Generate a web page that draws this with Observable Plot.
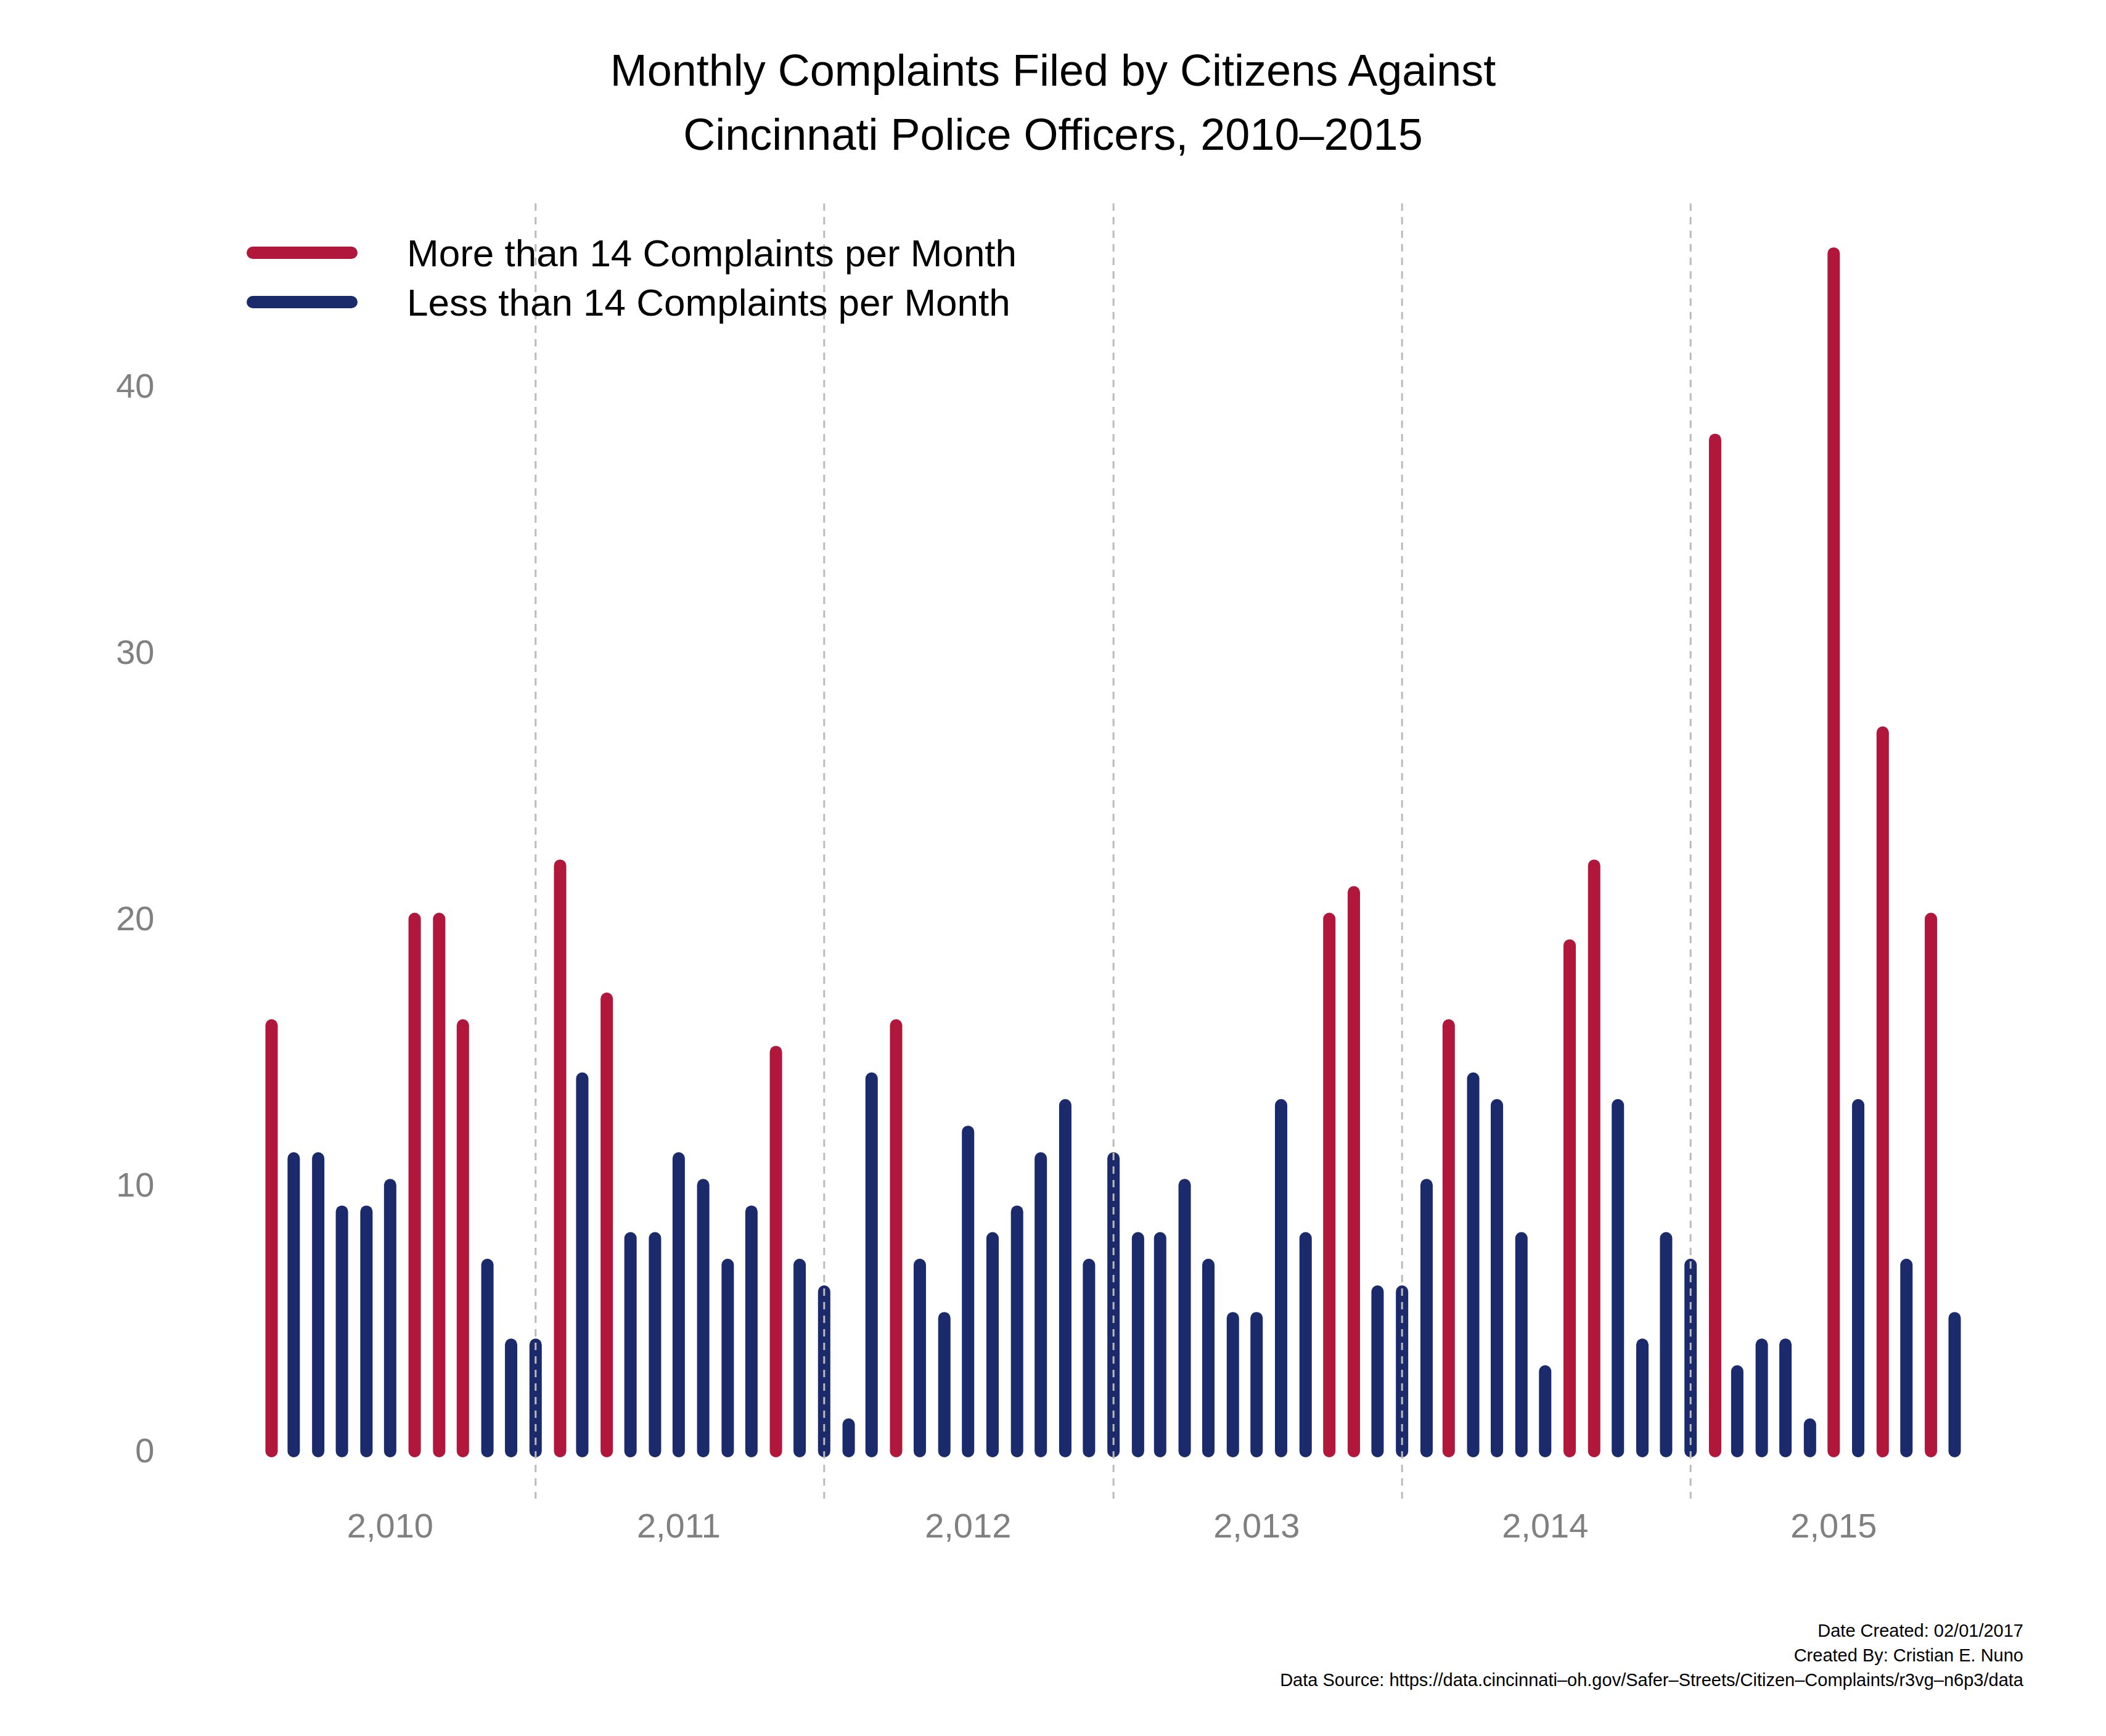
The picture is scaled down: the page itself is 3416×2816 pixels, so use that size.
<!DOCTYPE html>
<html><head><meta charset="utf-8">
<script src="https://cdn.jsdelivr.net/npm/d3@7"></script>
<script src="https://cdn.jsdelivr.net/npm/@observablehq/plot@0.6"></script>
<style>
body{margin:0;background:#fff;font-family:"Liberation Sans",Arial,sans-serif;}
#wrap{position:relative;width:3416px;height:2816px;}
#title{position:absolute;top:62px;left:0;width:3416px;text-align:center;font-size:72px;line-height:104px;color:#000;}
#chart{position:absolute;top:300px;left:0;}
#legend{position:absolute;top:370px;left:400px;font-size:62px;color:#000;}
.li{display:flex;align-items:center;height:80px;}
.sw{width:180px;height:20px;border-radius:10px;margin-right:80px;}
#cap{position:absolute;top:2625px;right:134px;text-align:right;font-size:29px;line-height:40px;color:#000;}
</style></head><body>
<div id="wrap">
<div id="title">Monthly Complaints Filed by Citizens Against<br>Cincinnati Police Officers, 2010–2015</div>
<div id="chart"></div>
<div id="legend"></div>
<div id="cap">Date Created: 02/01/2017<br>Created By: Cristian E. Nuno<br>Data Source: https://data.cincinnati–oh.gov/Safer–Streets/Citizen–Complaints/r3vg–n6p3/data</div>
</div>
<script>
const startMonth = "2010-02";
const complaints = [
 16,11,11,9,9,10,20,20,16,7,4,
 4,22,14,17,8,8,11,10,7,9,15,7,
 6,1,14,16,7,5,12,8,9,11,13,7,
 11,8,8,10,7,5,5,13,8,20,21,6,
 6,10,16,14,13,8,3,19,22,13,4,8,
 7,38,3,4,4,1,45,13,27,7,20,5
];
const threshold = 14;
const seriesLabels = ["More than 14 Complaints per Month","Less than 14 Complaints per Month"];
const seriesColors = ["#b0173a","#1b2a6b"];
const yearTicks = [2010,2011,2012,2013,2014,2015];
const yTicks = [0,10,20,30,40];

const start = new Date(startMonth+"-01T00:00:00Z");
const data = complaints.map((v,i)=>({date:d3.utcMonth.offset(start,i),value:v,group:v>threshold?seriesLabels[0]:seriesLabels[1]}));
const boundaries = yearTicks.slice(1).map(y=>new Date(Date.UTC(y,0,1)));
const labelDates = yearTicks.map(y=>new Date(Date.UTC(y,6,1)));

const chart = Plot.plot({
  width:3416, height:2300,
  marginLeft:440, marginRight:246, marginTop:68, marginBottom:246,
  style:{fontFamily:"Liberation Sans, Arial, sans-serif", background:"#fff"},
  x:{type:"utc", domain:[data[0].date, data[data.length-1].date]},
  y:{domain:[0,46]},
  color:{domain:seriesLabels, range:seriesColors},
  marks:[
    Plot.ruleX(data,{x:"date",y1:0,y2:"value",stroke:"group",strokeWidth:20,strokeLinecap:"round"}),
    Plot.ruleX(boundaries,{x:d=>d,stroke:"#bbbbbb",strokeWidth:3,strokeDasharray:"12,10",insetTop:-38,insetBottom:-77}),
    Plot.axisY({ticks:yTicks,tickSize:0,tickPadding:190,fontSize:56,color:"#808080",label:null}),
    Plot.axisX({ticks:labelDates,tickFormat:d=>d.getUTCFullYear(),tickSize:0,tickPadding:100,fontSize:56,color:"#808080",label:null})
  ]
});
document.getElementById("chart").appendChild(chart);
const lg=document.getElementById("legend");
seriesLabels.forEach((l,i)=>{const d=document.createElement("div");d.className="li";d.innerHTML=`<div class="sw" style="background:${seriesColors[i]}"></div><span>${l}</span>`;lg.appendChild(d);});
</script></body></html>
